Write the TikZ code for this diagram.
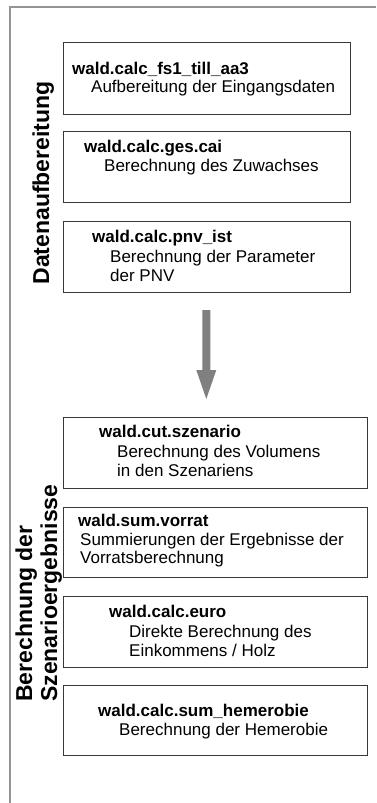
\documentclass[tikz,border=0pt]{standalone}
\usepackage{fontspec}
\setmainfont{Liberation Sans}
\begin{document}
\begin{tikzpicture}[x=1pt,y=-1pt,
  modbox/.style={draw=black!78, line width=1.1pt, fill=white, rectangle,
    inner sep=0pt, anchor=north west},
  modname/.style={anchor=base west, inner sep=0pt,
    font=\fontsize{17}{19}\selectfont\bfseries},
  moddesc/.style={anchor=base west, inner sep=0pt,
    font=\fontsize{17}{19}\selectfont},
  phase/.style={rotate=90, inner sep=0pt,
    font=\fontsize{23}{25}\selectfont\bfseries},
  frameline/.style={draw=black!42, line width=2pt},
  flowarrow/.style={fill=black!50, draw=none}]
\useasboundingbox (0,0) rectangle (376,803);

% outer frame (left and top edges)
\coordinate (fbl) at (9.5,803);
\coordinate (ftl) at (9.5,6.5);
\coordinate (ftr) at (376,6.5);
\draw[frameline] (fbl) -- (ftl) -- (ftr);

% phase titles
\node[phase, anchor=base] (p1) at (49,183) {Datenaufbereitung};
\node[phase, anchor=base west] (p2a) at (32,702) {Berechnung der};
\node[phase, anchor=base west] (p2b) at (57,702) {Szenarioergebnisse};

% --- Datenaufbereitung ---
\node[modbox, minimum width=287pt, minimum height=72pt] (b1) at (63,42) {};
\node[modname] (b1n) at (72,74) {wald.calc\_fs1\_till\_aa3};
\node[moddesc] (b1d) at (91,92) {Aufbereitung der Eingangsdaten};

\node[modbox, minimum width=287pt, minimum height=71pt] (b2) at (63,131) {};
\node[modname] (b2n) at (84,152) {wald.calc.ges.cai};
\node[moddesc] (b2d) at (104,171) {Berechnung des Zuwachses};

\node[modbox, minimum width=287pt, minimum height=71pt] (b3) at (63,221) {};
\node[modname] (b3n) at (92,242) {wald.calc.pnv\_ist};
\node[moddesc] (b3d) at (110,262) {Berechnung der Parameter};
\node[moddesc] (b3e) at (110,281) {der PNV};

% transition arrow
\coordinate (a1) at (202.3,310);
\coordinate (a2) at (210.3,310);
\coordinate (a3) at (210.3,370);
\coordinate (a4) at (216.3,370);
\coordinate (a5) at (206.3,399);
\coordinate (a6) at (196.3,370);
\coordinate (a7) at (202.3,370);
\fill[flowarrow] (a1) -- (a2) -- (a3) -- (a4) -- (a5) -- (a6) -- (a7) -- cycle;

% --- Berechnung der Szenarioergebnisse ---
\node[modbox, minimum width=304pt, minimum height=71pt] (b4) at (63,417) {};
\node[modname] (b4n) at (99,437) {wald.cut.szenario};
\node[moddesc] (b4d) at (117,457) {Berechnung des Volumens};
\node[moddesc] (b4e) at (117,476) {in den Szenariens};

\node[modbox, minimum width=304pt, minimum height=70pt] (b5) at (63,507) {};
\node[modname] (b5n) at (78,526) {wald.sum.vorrat};
\node[moddesc] (b5d) at (80,545) {Summierungen der Ergebnisse der};
\node[moddesc] (b5e) at (80,563) {Vorratsberechnung};

\node[modbox, minimum width=304pt, minimum height=71pt] (b6) at (63,596) {};
\node[modname] (b6n) at (109,617) {wald.calc.euro};
\node[moddesc] (b6d) at (129,637) {Direkte Berechnung des};
\node[moddesc] (b6e) at (129,656) {Einkommens / Holz};

\node[modbox, minimum width=304pt, minimum height=70pt] (b7) at (63,685) {};
\node[modname] (b7n) at (98,716) {wald.calc.sum\_hemerobie};
\node[moddesc] (b7d) at (119,735) {Berechnung der Hemerobie};
\end{tikzpicture}
\end{document}
